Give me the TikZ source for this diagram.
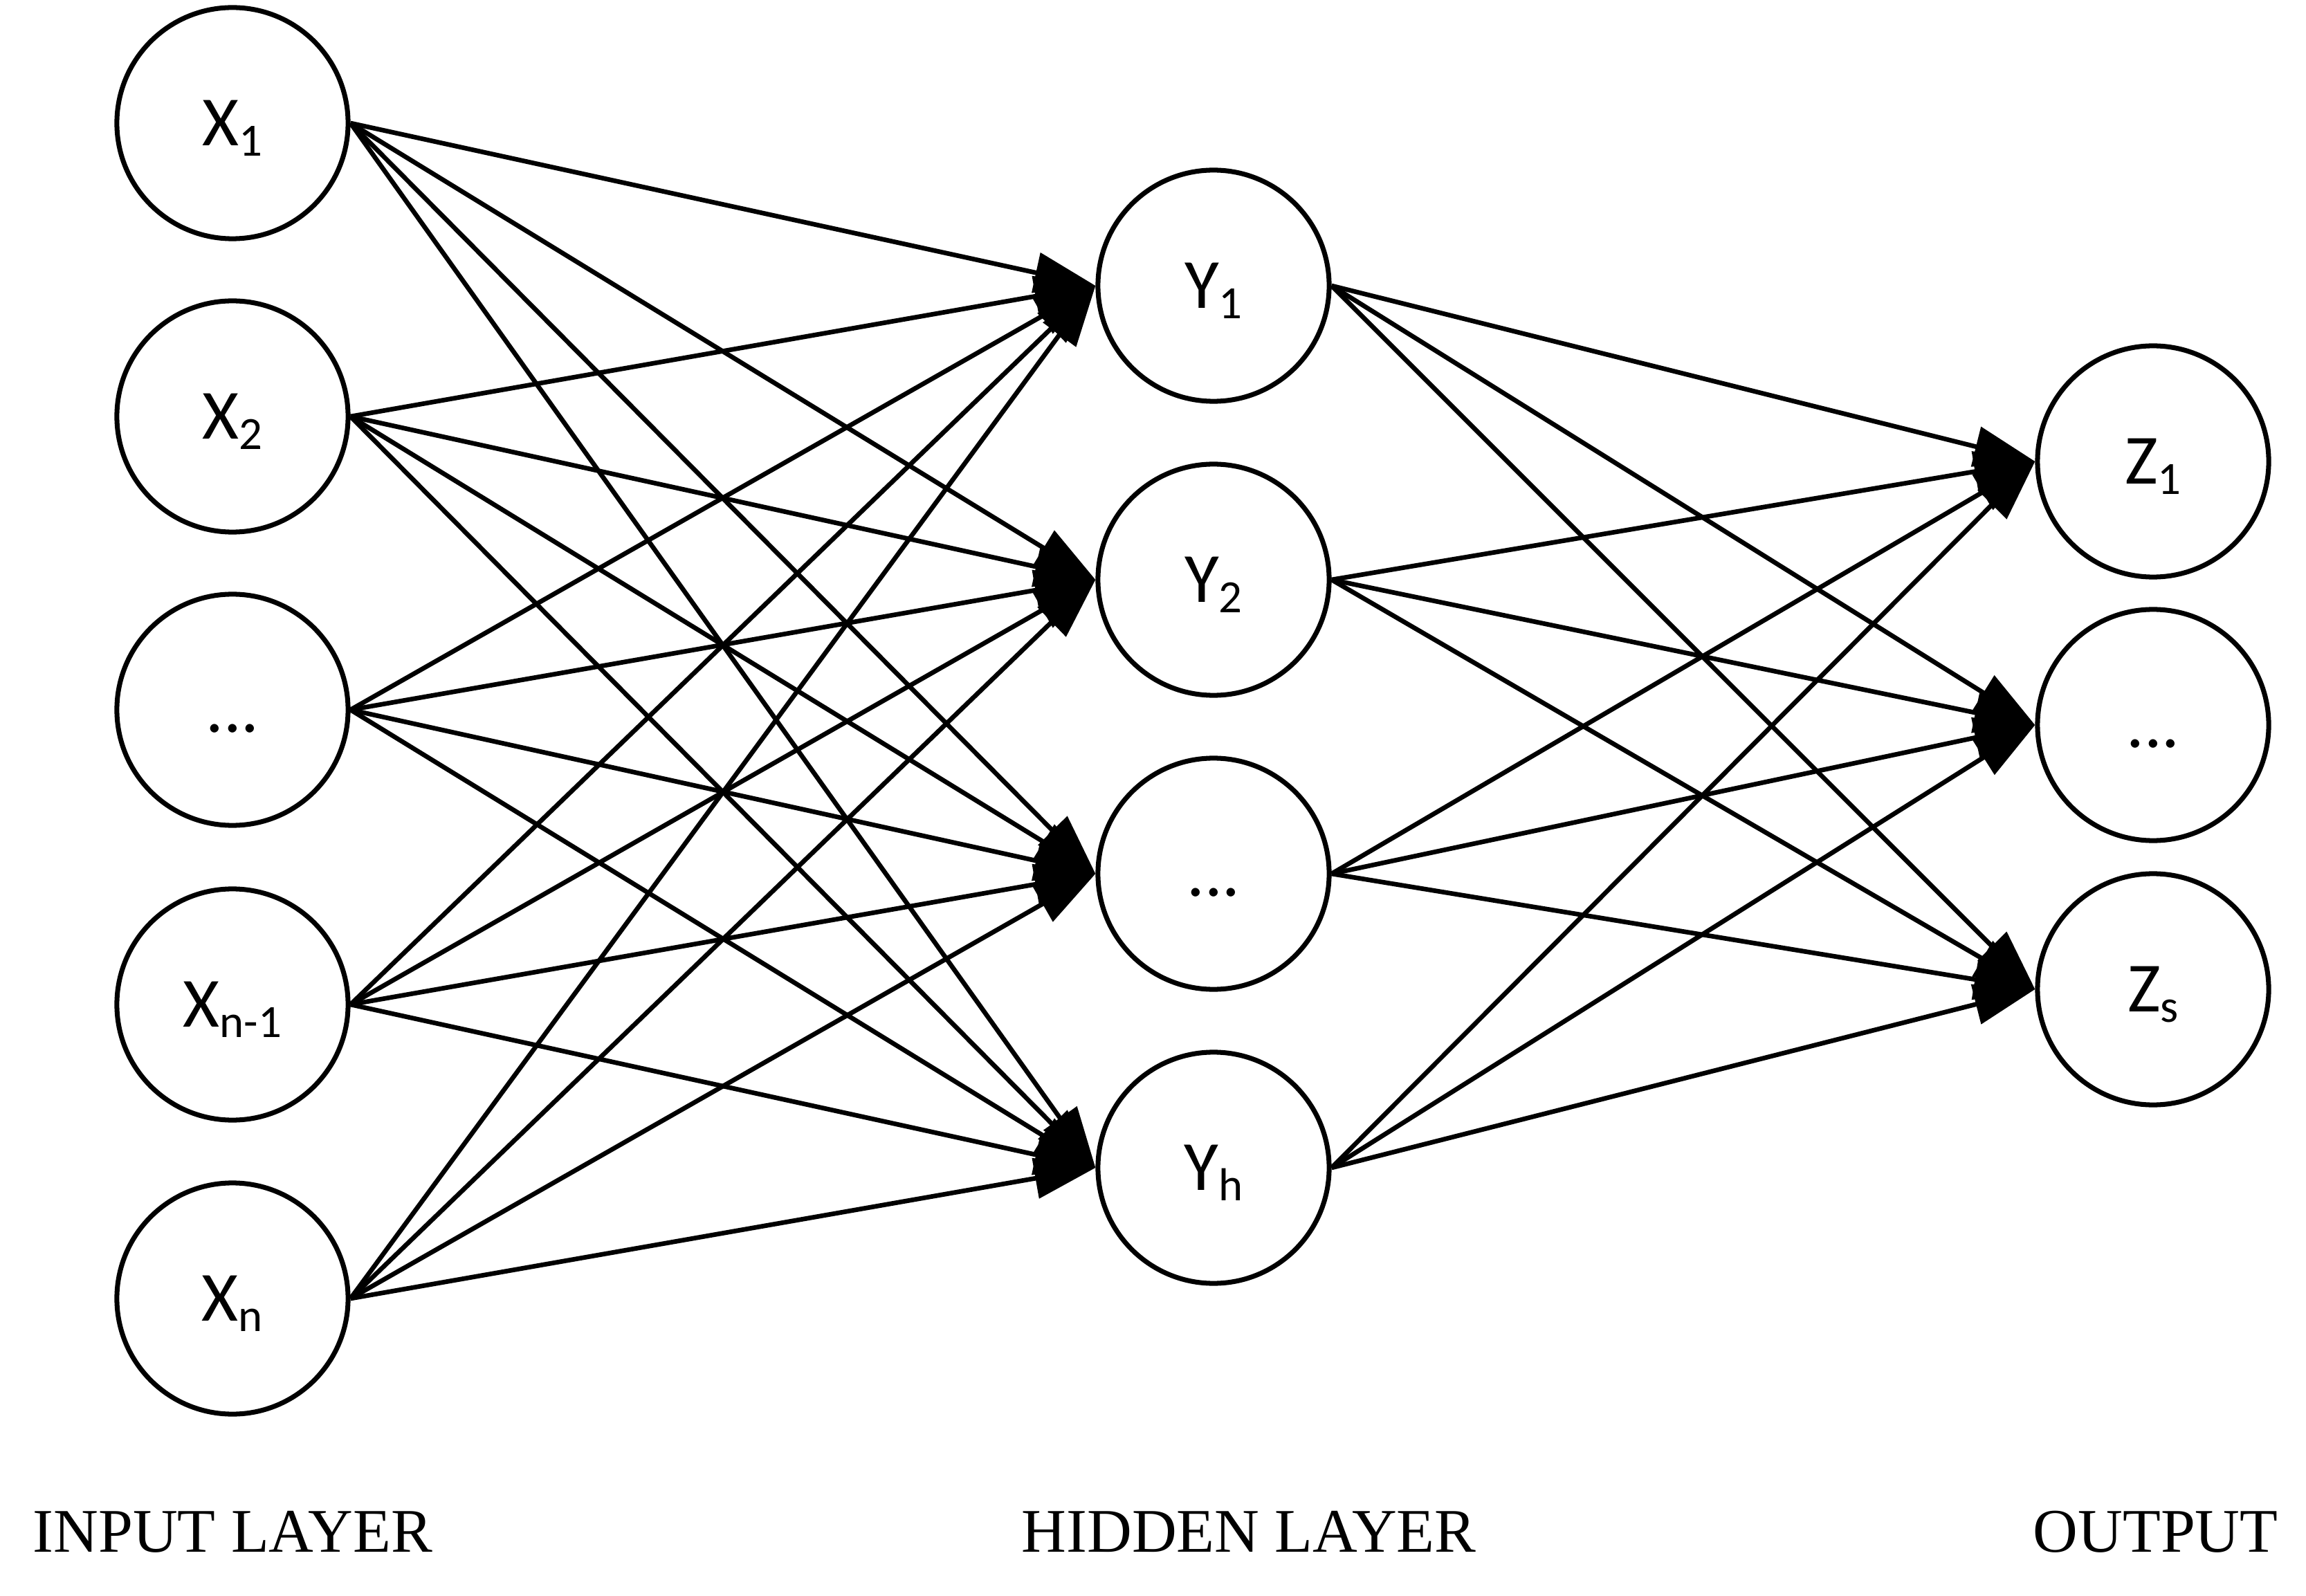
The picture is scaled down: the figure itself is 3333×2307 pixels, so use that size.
\documentclass[tikz,border=0pt]{standalone}
\usepackage{fontspec}
\setmainfont{Liberation Serif}
\newfontfamily\nodefont{Carlito}
\usetikzlibrary{arrows.meta}
\newcommand\nsub[1]{\raisebox{-4.3pt}{\fontsize{19}{19}\selectfont #1}}
\begin{document}
\begin{tikzpicture}[x=0.01cm,y=-0.01cm,
  neuron/.style={circle,draw,line width=2pt,minimum size=3.34cm,inner sep=0pt,
    fill=white,font=\nodefont\fontsize{29}{29}\selectfont,text height=18.5pt,text depth=0pt},
  link/.style={line width=1.9pt,-{Triangle[length=0.88cm,width=0.58cm]}},
  layerlabel/.style={anchor=base west,inner sep=0pt,font=\fontsize{25.5}{25.5}\selectfont}]
\useasboundingbox (0,0) rectangle (3333,2307);

% input layer
\node[neuron] (x1) at (336,178)  {X\nsub{1}};
\node[neuron] (x2) at (336,602)  {X\nsub{2}};
\node[neuron] (x3) at (336,1026) {...};
\node[neuron] (x4) at (336,1452) {X\nsub{n-1}};
\node[neuron] (x5) at (336,1877) {X\nsub{n}};

% hidden layer
\node[neuron] (y1) at (1754,413)  {Y\nsub{1}};
\node[neuron] (y2) at (1754,838)  {Y\nsub{2}};
\node[neuron] (y3) at (1754,1263) {...};
\node[neuron] (y4) at (1754,1688) {Y\nsub{h}};

% output layer
\node[neuron] (z1) at (3112,667)  {Z\nsub{1}};
\node[neuron] (z2) at (3112,1048) {...};
\node[neuron] (z3) at (3112,1430) {Z\nsub{s}};

% fully connected weights
\foreach \i in {1,...,5}
  \foreach \j in {1,...,4}
    \draw[link] (x\i.east) -- (y\j.west);
\foreach \j in {1,...,4}
  \foreach \k in {1,...,3}
    \draw[link] (y\j.east) -- (z\k.west);

% layer captions
\node[layerlabel] (inlab)  at (47,2243)   {INPUT LAYER};
\node[layerlabel] (hidlab) at (1476,2243) {HIDDEN LAYER};
\node[layerlabel] (outlab) at (2938,2243) {OUTPUT};
\end{tikzpicture}
\end{document}
